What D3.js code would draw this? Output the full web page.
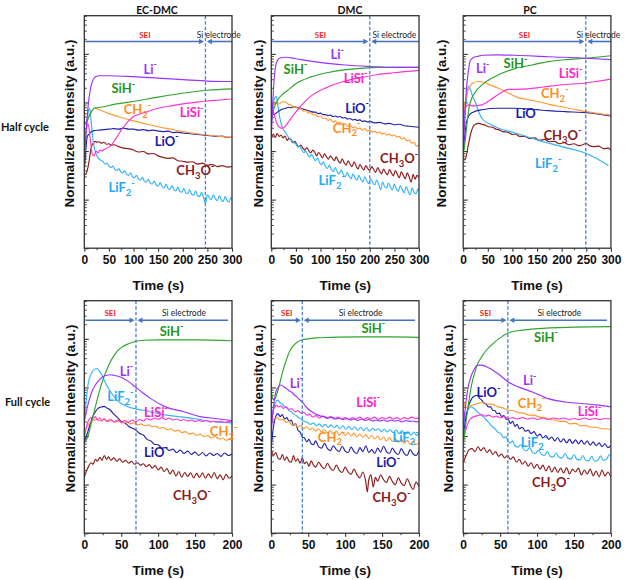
<!DOCTYPE html>
<html><head><meta charset="utf-8">
<script src="https://cdn.jsdelivr.net/npm/d3@7"></script>
<style>body{margin:0;background:#fff}svg{display:block}</style>
</head><body><svg id="c" width="625" height="580"></svg>
<script>
// ---------- DATA (time in s, value = log10 of normalized intensity) ----------
const columns = ["EC-DMC", "DMC", "PC"];
const rows = ["Half cycle", "Full cycle"];
const species = ["CH3O", "LiF2", "LiO", "CH2", "LiSi", "SiH", "Li"];
const xTicksHalf = [0, 50, 100, 150, 200, 250, 300];
const xTicksFull = [0, 50, 100, 150, 200];
const boundaries = [246, 200, 249, 70, 42, 60.5]; // SEI / Si electrode boundary (s)

// Panel A: EC-DMC half cycle
const A_Li = [[0,1.8],[2,2.1],[5,2.6],[8,2.95],[12,3.25],[16,3.42],[20,3.5],[25,3.54],[30,3.55],[50,3.55],[100,3.53],[150,3.5],[200,3.47],[250,3.44],[300,3.43]];
const A_SiH = [[0,2.6],[3,2.55],[6,2.62],[10,2.72],[15,2.82],[20,2.88],[25,2.89],[40,2.91],[60,2.96],[80,2.99],[100,3.02],[150,3.11],[200,3.19],[250,3.25],[300,3.28]];
const A_CH2 = [[0,2.75],[5,2.68],[10,2.72],[15,2.82],[20,2.88],[25,2.87],[30,2.85],[50,2.77],[75,2.69],[100,2.62],[125,2.56],[150,2.5],[175,2.45],[200,2.4],[225,2.36],[250,2.33],[275,2.3],[300,2.28]];
const A_LiO = [[0,1.6],[3,2.0],[6,2.3],[10,2.35],[15,2.4],[20,2.42],[30,2.43],[40,2.44],[50,2.45],[60,2.46],[70,2.45],[80,2.47],[90,2.45],[100,2.45],[110,2.43],[120,2.44],[130,2.42],[140,2.43],[150,2.41],[160,2.4],[170,2.41],[180,2.38],[190,2.39],[200,2.37],[210,2.36],[220,2.35],[230,2.34],[240,2.33],[250,2.32],[260,2.31],[270,2.3],[280,2.31],[290,2.28],[300,2.28]];
const A_LiSi = [[0,2.2],[4,2.45],[8,2.55],[12,2.25],[16,1.95],[20,1.9],[24,2.0],[28,1.96],[32,2.02],[36,2.0],[40,2.03],[45,2.05],[50,2.08],[55,2.12],[60,2.19],[65,2.27],[70,2.35],[75,2.43],[80,2.5],[85,2.56],[90,2.62],[95,2.67],[100,2.71],[110,2.75],[125,2.8],[150,2.88],[175,2.93],[200,2.97],[225,3.0],[250,3.03],[275,3.05],[300,3.07]];
const A_CH3O = [[0,1.55],[3,1.52],[6,1.6],[9,1.75],[12,1.95],[15,2.1],[18,2.16],[22,2.2],[26,2.18],[30,2.19],[35,2.16],[40,2.18],[45,2.14],[50,2.15],[55,2.12],[60,2.13],[70,2.09],[80,2.06],[90,2.05],[100,2.02],[110,1.98],[120,1.99],[130,1.94],[140,1.95],[150,1.9],[160,1.87],[170,1.85],[180,1.86],[190,1.8],[200,1.79],[210,1.77],[220,1.78],[230,1.73],[240,1.75],[250,1.71],[260,1.72],[270,1.68],[280,1.7],[290,1.67],[300,1.68]];
const A_LiF2 = [[0,2.0],[4,2.45],[8,2.8],[11,2.88],[14,2.6],[18,2.2],[22,2.0],[27,1.88],[32,1.82],[38,1.78],[42,1.73],[46,1.75],[50,1.69],[54,1.66],[58,1.69],[62,1.62],[66,1.6],[70,1.64],[74,1.57],[78,1.55],[82,1.59],[86,1.52],[90,1.5],[94,1.55],[98,1.47],[102,1.45],[106,1.5],[110,1.42],[114,1.4],[118,1.46],[122,1.38],[126,1.36],[130,1.42],[134,1.34],[138,1.32],[142,1.38],[146,1.3],[150,1.28],[154,1.35],[158,1.27],[162,1.24],[166,1.32],[170,1.23],[174,1.21],[178,1.29],[182,1.2],[186,1.18],[190,1.26],[194,1.17],[198,1.15],[202,1.23],[206,1.14],[210,1.12],[214,1.2],[218,1.11],[222,1.09],[226,1.18],[230,1.08],[234,1.06],[238,1.15],[242,1.05],[246,0.92],[250,1.1],[254,1.04],[258,1.0],[262,1.1],[266,1.02],[270,0.98],[274,1.08],[278,1.0],[282,0.96],[286,1.06],[290,0.98],[294,0.95],[298,1.04],[300,1.0]];

// Panel B: DMC half cycle
const B_Li = [[0,2.3],[3,3.0],[6,3.5],[10,3.8],[15,3.9],[20,3.92],[30,3.93],[50,3.9],[80,3.85],[110,3.81],[150,3.77],[200,3.74],[250,3.72],[300,3.72]];
const B_SiH = [[0,2.6],[3,2.78],[8,2.95],[15,3.08],[22,3.16],[32,3.24],[52,3.4],[79,3.52],[113,3.61],[147,3.67],[180,3.7],[214,3.72],[248,3.72],[300,3.72]];
const B_LiSi = [[0,2.9],[3,2.85],[6,2.75],[10,2.6],[15,2.5],[20,2.47],[25,2.48],[35,2.6],[45,2.74],[60,2.93],[79,3.12],[113,3.31],[147,3.43],[180,3.51],[214,3.57],[248,3.61],[300,3.66]];
const B_CH2 = [[0,2.8],[5,2.95],[10,2.98],[15,2.97],[20,3.0],[25,3.02],[30,3.0],[35,2.96],[40,2.95],[45,2.9],[50,2.91],[55,2.86],[60,2.87],[65,2.82],[70,2.83],[75,2.78],[80,2.79],[85,2.74],[90,2.75],[95,2.71],[100,2.72],[105,2.67],[110,2.68],[115,2.63],[120,2.65],[125,2.6],[130,2.62],[135,2.57],[140,2.59],[145,2.54],[150,2.56],[155,2.51],[160,2.53],[165,2.48],[170,2.5],[175,2.46],[180,2.47],[185,2.43],[190,2.46],[195,2.41],[200,2.43],[205,2.39],[210,2.41],[215,2.37],[220,2.39],[225,2.35],[230,2.37],[235,2.33],[240,2.35],[245,2.31],[250,2.33],[255,2.29],[260,2.3],[265,2.25],[270,2.27],[275,2.21],[280,2.23],[285,2.16],[290,2.18],[295,2.1],[300,2.13]];
const B_LiO = [[0,2.85],[5,2.75],[10,2.78],[15,2.82],[20,2.85],[25,2.87],[30,2.88],[35,2.9],[40,2.89],[45,2.91],[50,2.9],[55,2.89],[60,2.88],[65,2.86],[70,2.85],[75,2.83],[80,2.82],[85,2.8],[90,2.8],[95,2.77],[100,2.78],[105,2.75],[110,2.75],[115,2.73],[120,2.74],[125,2.71],[130,2.72],[135,2.7],[140,2.71],[145,2.68],[150,2.69],[155,2.66],[160,2.67],[165,2.64],[170,2.65],[175,2.63],[180,2.64],[185,2.61],[190,2.62],[195,2.6],[200,2.61],[210,2.58],[220,2.59],[230,2.56],[240,2.57],[250,2.54],[260,2.55],[270,2.52],[280,2.51],[290,2.5],[300,2.49]];
const B_CH3O = [[0,2.25],[4,2.35],[8,2.28],[12,2.36],[16,2.3],[20,2.33],[24,2.27],[28,2.31],[32,2.22],[36,2.26],[40,2.23],[44,2.17],[48,2.2],[52,2.13],[56,2.09],[60,2.12],[64,2.06],[68,2.02],[72,2.07],[76,2.01],[80,1.96],[84,2.02],[88,1.98],[92,1.9],[96,1.97],[100,1.92],[104,1.86],[108,1.94],[112,1.88],[116,1.83],[120,1.9],[124,1.85],[128,1.8],[132,1.88],[136,1.8],[140,1.75],[144,1.84],[148,1.76],[152,1.71],[156,1.8],[160,1.73],[164,1.68],[168,1.78],[172,1.7],[176,1.63],[180,1.72],[184,1.66],[188,1.61],[192,1.7],[196,1.64],[200,1.6],[204,1.68],[208,1.62],[212,1.56],[216,1.66],[220,1.59],[224,1.53],[228,1.63],[232,1.56],[236,1.51],[240,1.62],[244,1.55],[248,1.49],[252,1.6],[256,1.52],[260,1.45],[264,1.57],[268,1.5],[272,1.43],[276,1.55],[280,1.47],[284,1.36],[288,1.52],[292,1.42],[296,1.5],[300,1.45]];
const B_LiF2 = [[0,2.6],[3,2.9],[7,3.1],[10,3.12],[14,2.9],[18,2.65],[22,2.5],[26,2.42],[30,2.36],[35,2.28],[40,2.24],[45,2.18],[50,2.14],[54,2.08],[58,2.1],[62,2.02],[66,1.97],[70,2.0],[74,1.92],[78,1.88],[82,1.93],[86,1.85],[90,1.8],[94,1.86],[98,1.76],[102,1.72],[106,1.78],[110,1.68],[114,1.64],[118,1.71],[122,1.62],[126,1.58],[130,1.66],[134,1.57],[138,1.53],[142,1.61],[146,1.52],[150,1.47],[154,1.56],[158,1.48],[162,1.43],[166,1.53],[170,1.45],[174,1.4],[178,1.5],[182,1.41],[186,1.36],[190,1.47],[194,1.38],[198,1.33],[202,1.43],[206,1.35],[210,1.3],[214,1.4],[218,1.32],[222,1.2],[226,1.36],[230,1.27],[234,1.24],[238,1.34],[242,1.26],[246,1.2],[250,1.32],[254,1.22],[258,1.17],[262,1.29],[266,1.2],[270,1.14],[274,1.27],[278,1.17],[282,1.1],[286,1.24],[290,1.15],[294,1.12],[298,1.22],[300,1.18]];

// Panel C: PC half cycle
const C_Li = [[0,2.0],[3,2.6],[6,3.2],[10,3.6],[14,3.85],[20,3.92],[30,3.95],[40,3.97],[70,3.98],[105,3.97],[173,3.94],[250,3.91],[300,3.88]];
const C_SiH = [[0,1.9],[4,2.2],[8,2.6],[12,2.9],[18,3.1],[25,3.22],[38,3.36],[55,3.48],[72,3.57],[106,3.7],[139,3.77],[173,3.84],[207,3.88],[250,3.91],[300,3.96]];
const C_CH2 = [[0,2.8],[5,3.05],[10,3.25],[15,3.35],[20,3.4],[30,3.43],[40,3.42],[55,3.36],[72,3.29],[90,3.2],[106,3.12],[130,3.06],[150,3.02],[175,2.96],[200,2.91],[225,2.86],[250,2.81],[275,2.77],[300,2.74]];
const C_LiSi = [[0,2.7],[5,2.9],[10,2.95],[20,2.93],[38,2.95],[55,3.05],[72,3.17],[92,3.27],[110,3.27],[130,3.28],[150,3.3],[173,3.33],[207,3.37],[241,3.39],[270,3.43],[300,3.48]];
const C_LiO = [[0,2.0],[3,2.3],[7,2.6],[10,2.7],[14,2.76],[20,2.8],[38,2.85],[72,2.88],[106,2.88],[139,2.86],[173,2.83],[207,2.81],[250,2.79],[275,2.76],[300,2.72]];
const C_CH3O = [[0,1.8],[5,1.85],[10,2.1],[15,2.35],[20,2.5],[25,2.55],[31,2.57],[38,2.55],[45,2.53],[52,2.5],[60,2.49],[66,2.45],[72,2.44],[80,2.4],[90,2.39],[100,2.34],[106,2.35],[115,2.3],[125,2.3],[135,2.26],[145,2.27],[155,2.22],[165,2.24],[175,2.19],[185,2.2],[195,2.15],[205,2.17],[215,2.13],[225,2.15],[235,2.11],[245,2.14],[250,2.16],[255,2.12],[265,2.09],[275,2.1],[285,2.05],[295,2.06],[300,2.02]];
const C_LiF2 = [[0,2.4],[4,2.8],[8,3.2],[11,3.33],[15,3.25],[20,3.1],[25,3.0],[30,2.85],[38,2.67],[55,2.55],[72,2.47],[106,2.37],[150,2.23],[200,2.09],[250,1.95],[270,1.85],[295,1.7]];

// Panel D: EC-DMC full cycle
const D_SiH = [[0,1.85],[5,2.0],[10,2.3],[15,2.6],[20,2.9],[25,3.15],[30,3.35],[35,3.52],[40,3.65],[45,3.75],[50,3.82],[60,3.9],[70,3.95],[80,3.97],[100,3.98],[150,3.98],[200,3.96]];
const D_Li = [[0,2.3],[5,2.65],[10,2.9],[15,3.05],[20,3.15],[25,3.22],[30,3.25],[35,3.26],[40,3.25],[50,3.21],[60,3.12],[70,3.0],[80,2.88],[90,2.77],[110,2.6],[135,2.5],[157,2.4],[177,2.36],[200,2.32]];
const D_LiF2 = [[0,2.3],[5,3.05],[10,3.3],[17,3.39],[22,3.3],[30,3.05],[37,2.88],[44,2.74],[55,2.63],[66,2.57],[80,2.53],[89,2.5],[111,2.43],[134,2.39],[157,2.34],[177,2.29],[200,2.27]];
const D_LiO = [[0,1.9],[3,2.0],[6,2.15],[9,2.3],[12,2.42],[15,2.5],[18,2.56],[21,2.59],[24,2.6],[27,2.61],[30,2.58],[33,2.56],[36,2.52],[40,2.45],[45,2.38],[50,2.3],[55,2.27],[60,2.2],[65,2.16],[70,2.12],[75,2.05],[80,2.02],[85,1.93],[90,1.9],[95,1.83],[100,1.82],[105,1.75],[110,1.76],[115,1.7],[120,1.73],[125,1.66],[130,1.71],[135,1.64],[140,1.69],[145,1.62],[150,1.67],[155,1.6],[160,1.66],[165,1.59],[170,1.65],[175,1.6],[180,1.64],[185,1.58],[190,1.65],[195,1.6],[200,1.63]];
const D_LiSi = [[0,1.95],[3,2.2],[6,2.33],[9,2.38],[12,2.35],[15,2.4],[18,2.33],[21,2.37],[24,2.31],[27,2.36],[30,2.3],[35,2.34],[40,2.29],[45,2.33],[50,2.28],[55,2.32],[60,2.28],[65,2.33],[70,2.29],[75,2.34],[80,2.31],[85,2.36],[90,2.33],[95,2.37],[100,2.34],[105,2.38],[110,2.34],[115,2.37],[120,2.33],[125,2.35],[130,2.32],[135,2.34],[140,2.31],[145,2.33],[150,2.3],[155,2.32],[160,2.3],[165,2.32],[170,2.29],[175,2.31],[180,2.29],[185,2.31],[190,2.28],[195,2.3],[200,2.3]];
const D_CH2 = [[0,2.1],[4,2.2],[8,2.28],[12,2.32],[17,2.34],[22,2.31],[27,2.34],[32,2.3],[37,2.32],[42,2.29],[47,2.31],[52,2.27],[57,2.29],[62,2.25],[67,2.27],[72,2.23],[77,2.25],[82,2.21],[87,2.23],[92,2.19],[97,2.2],[102,2.16],[107,2.18],[112,2.13],[117,2.15],[122,2.1],[127,2.12],[132,2.07],[137,2.09],[142,2.04],[147,2.06],[152,2.01],[157,2.04],[162,1.99],[167,2.01],[172,1.96],[177,1.99],[182,1.94],[187,1.96],[192,1.91],[197,1.94],[200,1.92]];
const D_CH3O = [[0,1.15],[3,1.28],[6,1.38],[9,1.45],[12,1.42],[15,1.52],[18,1.48],[21,1.56],[24,1.5],[27,1.6],[30,1.52],[33,1.57],[36,1.5],[40,1.55],[44,1.48],[48,1.53],[52,1.46],[56,1.5],[60,1.44],[64,1.48],[68,1.42],[72,1.45],[76,1.4],[80,1.43],[84,1.37],[88,1.41],[92,1.34],[96,1.39],[100,1.3],[104,1.36],[108,1.27],[112,1.33],[116,1.22],[120,1.3],[124,1.18],[128,1.27],[132,1.15],[136,1.25],[140,1.17],[144,1.24],[148,1.14],[152,1.23],[156,1.15],[160,1.24],[164,1.13],[168,1.22],[172,1.14],[176,1.25],[180,1.12],[184,1.2],[188,1.1],[192,1.21],[196,1.13],[200,1.18]];

// Panel E: DMC full cycle
const E_SiH = [[0,2.9],[3,2.75],[6,2.8],[10,3.0],[15,3.3],[20,3.55],[25,3.75],[30,3.86],[35,3.93],[42,3.98],[50,4.0],[60,4.02],[80,4.03],[120,4.04],[160,4.04],[200,4.03]];
const E_Li = [[0,2.1],[3,2.6],[6,2.9],[9,3.0],[13,3.05],[18,3.0],[22,2.96],[25,2.92],[28,2.9],[31,2.85],[35,2.8],[39,2.74],[43,2.68],[47,2.6],[52,2.53],[57,2.48],[62,2.44],[67,2.41],[72,2.4],[77,2.37],[82,2.39],[87,2.35],[92,2.37],[97,2.34],[102,2.36],[107,2.33],[112,2.35],[117,2.32],[122,2.35],[127,2.32],[132,2.34],[137,2.31],[142,2.33],[147,2.31],[152,2.33],[157,2.3],[162,2.33],[167,2.31],[172,2.32],[177,2.29],[182,2.32],[187,2.3],[192,2.31],[197,2.29],[200,2.3]];
const E_LiSi = [[0,2.3],[3,2.55],[7,2.63],[10,2.6],[13,2.62],[16,2.57],[20,2.6],[24,2.55],[28,2.56],[32,2.5],[36,2.52],[40,2.47],[44,2.49],[48,2.43],[52,2.45],[56,2.39],[60,2.42],[65,2.37],[70,2.41],[75,2.36],[80,2.4],[85,2.35],[90,2.39],[95,2.35],[100,2.38],[105,2.34],[110,2.38],[115,2.35],[120,2.39],[125,2.34],[130,2.38],[135,2.35],[140,2.39],[145,2.34],[150,2.38],[155,2.35],[160,2.39],[165,2.35],[170,2.38],[175,2.34],[180,2.38],[185,2.35],[190,2.39],[195,2.36],[200,2.37]];
const E_LiF2 = [[0,2.3],[3,2.55],[6,2.7],[9,2.74],[12,2.68],[15,2.66],[18,2.6],[21,2.58],[24,2.52],[27,2.5],[30,2.45],[33,2.43],[37,2.38],[41,2.34],[45,2.3],[49,2.28],[53,2.24],[57,2.27],[61,2.21],[65,2.25],[69,2.19],[73,2.24],[77,2.18],[81,2.23],[85,2.17],[89,2.22],[93,2.15],[97,2.21],[101,2.14],[105,2.2],[109,2.13],[113,2.19],[117,2.12],[121,2.18],[125,2.11],[129,2.17],[133,2.1],[137,2.16],[141,2.12],[145,2.15],[149,2.09],[153,2.14],[157,2.08],[161,2.13],[165,2.07],[169,2.12],[173,2.05],[177,2.11],[181,2.03],[185,2.09],[189,2.02],[193,2.08],[197,2.01],[200,2.06]];
const E_LiO = [[0,1.8],[3,2.2],[6,2.4],[9,2.46],[12,2.4],[15,2.44],[18,2.35],[21,2.38],[24,2.3],[27,2.33],[30,2.22],[33,2.25],[36,2.12],[39,2.08],[42,1.98],[45,1.96],[48,1.88],[51,1.93],[54,1.84],[57,1.82],[60,1.9],[64,1.78],[68,1.75],[72,1.85],[76,1.74],[80,1.7],[84,1.8],[88,1.72],[92,1.68],[96,1.79],[100,1.69],[104,1.66],[108,1.77],[112,1.68],[116,1.64],[120,1.76],[124,1.68],[128,1.8],[132,1.66],[136,1.72],[140,1.64],[144,1.75],[148,1.67],[152,1.79],[156,1.68],[160,1.64],[164,1.75],[168,1.66],[172,1.62],[176,1.74],[180,1.64],[184,1.6],[188,1.72],[192,1.63],[196,1.6],[200,1.7]];
const E_CH2 = [[0,2.3],[4,2.36],[8,2.38],[12,2.33],[16,2.35],[20,2.28],[24,2.3],[28,2.22],[32,2.25],[36,2.18],[40,2.22],[44,2.15],[48,2.19],[52,2.13],[56,2.17],[60,2.1],[64,2.15],[68,2.08],[72,2.13],[76,2.06],[80,2.11],[84,2.04],[88,2.1],[92,2.02],[96,2.08],[100,2.01],[104,2.07],[108,2.0],[112,2.06],[116,1.98],[120,2.04],[124,1.97],[128,2.03],[132,1.95],[136,2.01],[140,1.94],[144,2.0],[148,1.92],[152,1.98],[156,1.9],[160,1.97],[164,1.89],[168,1.95],[172,1.87],[176,1.93],[180,1.85],[184,1.91],[188,1.83],[192,1.89],[196,1.82],[200,1.86]];
const E_CH3O = [[0,1.72],[3,1.6],[6,1.66],[9,1.55],[12,1.52],[15,1.62],[18,1.5],[21,1.57],[24,1.48],[27,1.46],[30,1.6],[33,1.48],[36,1.53],[39,1.44],[42,1.55],[45,1.43],[48,1.47],[51,1.38],[54,1.49],[57,1.4],[60,1.36],[64,1.46],[68,1.38],[72,1.33],[76,1.44],[80,1.34],[84,1.29],[88,1.4],[92,1.3],[96,1.25],[100,1.36],[104,1.26],[108,1.21],[112,1.32],[116,1.2],[120,1.14],[124,1.26],[128,1.05],[130,0.85],[132,1.1],[135,1.2],[138,0.95],[141,1.15],[144,1.07],[148,1.2],[152,1.1],[156,1.04],[160,1.17],[164,1.06],[168,1.0],[172,1.14],[176,1.03],[180,0.98],[184,1.12],[188,1.0],[192,0.9],[196,1.05],[200,0.96]];

// Panel F: PC full cycle
const F_SiH = [[0,1.8],[3,2.2],[6,2.55],[9,2.85],[12,3.1],[16,3.32],[20,3.5],[25,3.63],[30,3.74],[38,3.87],[50,4.02],[61,4.12],[80,4.18],[100,4.21],[150,4.24],[200,4.25]];
const F_Li = [[0,2.15],[3,2.6],[6,2.95],[10,3.2],[15,3.38],[20,3.46],[25,3.46],[35,3.4],[50,3.25],[61,3.11],[70,3.04],[80,2.98],[93,2.91],[115,2.77],[138,2.7],[160,2.67],[180,2.64],[200,2.6]];
const F_LiO = [[0,2.0],[4,2.4],[8,2.65],[12,2.78],[16,2.83],[19,2.84],[22,2.78],[25,2.74],[28,2.68],[31,2.66],[34,2.6],[37,2.6],[40,2.53],[43,2.52],[46,2.46],[49,2.47],[52,2.4],[55,2.42],[58,2.35],[61,2.34],[64,2.26],[67,2.3],[70,2.2],[73,2.24],[76,2.15],[80,2.18],[84,2.1],[88,2.12],[92,2.05],[96,2.09],[100,2.0],[104,2.04],[108,1.96],[112,2.01],[116,1.93],[120,1.98],[124,1.9],[128,1.97],[132,1.88],[136,1.94],[140,1.86],[144,1.93],[148,1.85],[152,1.92],[156,1.84],[160,1.91],[164,1.83],[168,1.9],[172,1.81],[176,1.88],[180,1.8],[184,1.86],[188,1.78],[192,1.84],[196,1.76],[200,1.8]];
const F_CH2 = [[0,2.75],[3,2.6],[6,2.58],[10,2.62],[15,2.65],[20,2.67],[27,2.69],[33,2.66],[40,2.65],[47,2.6],[54,2.58],[61,2.53],[68,2.52],[75,2.48],[82,2.47],[89,2.43],[96,2.43],[103,2.39],[110,2.38],[117,2.34],[124,2.33],[131,2.3],[138,2.3],[145,2.25],[152,2.26],[159,2.21],[166,2.22],[173,2.18],[180,2.18],[187,2.15],[194,2.15],[200,2.13]];
const F_LiSi = [[0,1.9],[3,2.1],[6,2.25],[10,2.36],[15,2.4],[20,2.42],[25,2.44],[30,2.41],[35,2.43],[40,2.39],[45,2.41],[50,2.37],[55,2.4],[61,2.36],[67,2.38],[73,2.35],[80,2.38],[87,2.35],[94,2.37],[101,2.34],[108,2.37],[115,2.34],[122,2.37],[129,2.35],[136,2.37],[143,2.34],[150,2.36],[157,2.34],[164,2.37],[171,2.34],[178,2.36],[185,2.34],[192,2.36],[200,2.35]];
const F_LiF2 = [[0,2.2],[3,2.4],[7,2.55],[11,2.6],[15,2.56],[19,2.5],[23,2.45],[27,2.4],[31,2.33],[35,2.27],[39,2.2],[43,2.15],[47,2.08],[51,2.05],[55,1.96],[58,1.99],[61,1.88],[64,1.86],[67,1.9],[70,1.8],[74,1.77],[78,1.82],[82,1.72],[86,1.7],[90,1.76],[94,1.66],[98,1.64],[102,1.71],[106,1.62],[110,1.6],[114,1.68],[118,1.58],[122,1.57],[126,1.65],[130,1.56],[134,1.55],[138,1.64],[142,1.54],[146,1.53],[150,1.62],[154,1.52],[158,1.51],[162,1.6],[166,1.5],[170,1.49],[174,1.58],[178,1.48],[182,1.5],[186,1.59],[190,1.5],[194,1.52],[198,1.62],[200,1.58]];
const F_CH3O = [[0,1.45],[4,1.6],[8,1.72],[12,1.74],[16,1.68],[20,1.78],[24,1.7],[28,1.76],[32,1.66],[36,1.72],[40,1.62],[44,1.68],[48,1.58],[52,1.63],[56,1.55],[60,1.6],[64,1.52],[68,1.57],[72,1.46],[76,1.52],[80,1.42],[84,1.48],[88,1.38],[92,1.45],[96,1.34],[100,1.42],[104,1.32],[108,1.4],[112,1.28],[116,1.38],[120,1.26],[124,1.36],[128,1.25],[132,1.34],[136,1.24],[140,1.35],[144,1.22],[148,1.32],[152,1.26],[156,1.34],[160,1.2],[164,1.3],[168,1.22],[172,1.32],[176,1.18],[180,1.28],[184,1.16],[188,1.3],[192,1.18],[196,1.26],[200,1.15]];

const panelData = [
  {Li:A_Li, SiH:A_SiH, CH2:A_CH2, LiO:A_LiO, LiSi:A_LiSi, CH3O:A_CH3O, LiF2:A_LiF2},
  {Li:B_Li, SiH:B_SiH, CH2:B_CH2, LiO:B_LiO, LiSi:B_LiSi, CH3O:B_CH3O, LiF2:B_LiF2},
  {Li:C_Li, SiH:C_SiH, CH2:C_CH2, LiO:C_LiO, LiSi:C_LiSi, CH3O:C_CH3O, LiF2:C_LiF2},
  {Li:D_Li, SiH:D_SiH, CH2:D_CH2, LiO:D_LiO, LiSi:D_LiSi, CH3O:D_CH3O, LiF2:D_LiF2},
  {Li:E_Li, SiH:E_SiH, CH2:E_CH2, LiO:E_LiO, LiSi:E_LiSi, CH3O:E_CH3O, LiF2:E_LiF2},
  {Li:F_Li, SiH:F_SiH, CH2:F_CH2, LiO:F_LiO, LiSi:F_LiSi, CH3O:F_CH3O, LiF2:F_LiF2}
];

// ---------- LAYOUT / STYLE ----------
const lineColor = {Li:"#9B33FF", SiH:"#2EA52E", CH2:"#FF9A33", LiSi:"#FF33D6", LiO:"#2222AA", CH3O:"#8E1B1B", LiF2:"#33B4FF"};
const textColor = {Li:"#9933FF", SiH:"#1E961E", CH2:"#FF8C1A", LiSi:"#FF22CC", LiO:"#1A1AA8", CH3O:"#8B1A1A", LiF2:"#22AAF5"};
// label anchor positions in data coordinates [time, log10 value] for each panel
const labelPos = [
  {Li:[120,3.59], SiH:[55,3.19], CH2:[80,2.76], LiSi:[194,2.7], LiO:[143,2.11], CH3O:[187,1.5], LiF2:[49,1.15]},
  {Li:[120,3.89], SiH:[25,3.59], CH2:[125,2.38], LiSi:[147,3.41], LiO:[150,2.79], CH3O:[221,1.75], LiF2:[96,1.3]},
  {Li:[26,3.6], SiH:[82,3.7], CH2:[158,3.09], LiSi:[194,3.5], LiO:[106,2.67], CH3O:[163,2.23], LiF2:[146,1.65]},
  {Li:[48,3.24], SiH:[102,4.06], CH2:[170,2.0], LiSi:[81,2.39], LiO:[81,1.57], CH3O:[120,0.68], LiF2:[31,2.72]},
  {Li:[25,2.99], SiH:[122,4.13], CH2:[63,1.88], LiSi:[115,2.6], LiO:[142,1.36], CH3O:[137,0.64], LiF2:[164,1.88]},
  {Li:[81,3.05], SiH:[96,3.94], CH2:[74,2.58], LiSi:[155,2.41], LiO:[18,2.8], CH3O:[93,0.95], LiF2:[78,1.78]}
];
const lefts = [84.3, 271.3, 463.2];
const tops = [15.7, 300.7];
const W = 147.7, H = 232.5;
const yLabelGap = [8, 6, 15, 7, 6, 8];
const LOGMAX = 4.785;

const svg = d3.select("#c");
const tickFont = "'Liberation Sans', Arial, sans-serif";
const lblFont = "Lato, 'Open Sans', sans-serif";

// Row labels & column titles
rows.forEach((r, i) => {
  svg.append("text").attr("x", i === 0 ? 1 : 5).attr("y", i === 0 ? 130.5 : 406)
    .attr("font-family", lblFont).attr("font-weight", "bold").attr("font-size", 11).attr("fill", "#111").text(r);
});
columns.forEach((c, i) => {
  svg.append("text").attr("x", [157, 350, 530][i]).attr("y", 13.5).attr("text-anchor", "middle")
    .attr("font-family", lblFont).attr("font-weight", "bold").attr("font-size", 10.5).attr("fill", "#111").text(c);
});

function speciesLabel(g, name, x, y) {
  const t = g.append("text").attr("x", x).attr("y", y).attr("font-family", lblFont)
    .attr("font-weight", "bold").attr("font-size", 13).attr("fill", textColor[name]);
  const parts = {
    Li: [["Li", 0]], SiH: [["SiH", 0]], LiSi: [["LiSi", 0]], LiO: [["LiO", 0]],
    CH2: [["CH", 0], ["2", 1]], CH3O: [["CH", 0], ["3", 1], ["O", 0]], LiF2: [["LiF", 0], ["2", 1]]
  }[name];
  let cur = 0;
  parts.forEach(([s, sub]) => {
    const target = sub ? 3.5 : 0;
    const ts = t.append("tspan").attr("dy", target - cur).text(s);
    if (sub) ts.attr("font-size", 9.5);
    cur = target;
  });
  t.append("tspan").attr("dy", -6.5 - cur).attr("font-size", 9).text("-");
}

for (let p = 0; p < 6; p++) {
  const row = Math.floor(p / 3), col = p % 3;
  const L = lefts[col], T = tops[row];
  const full = row === 1;
  const xMax = full ? 200 : 300;
  const x = d3.scaleLinear().domain([0, xMax]).range([L, L + W]);
  const y = d3.scaleLog().domain([1, Math.pow(10, LOGMAX)]).range([T + H, T]);
  const g = svg.append("g");

  const cid = "clip" + p;
  svg.append("clipPath").attr("id", cid).append("rect").attr("x", L).attr("y", T).attr("width", W).attr("height", H);

  // x axis (ticks outward)
  const xt = full ? xTicksFull : xTicksHalf;
  const xMinor = d3.range(25, xMax, 50);
  g.append("g").attr("transform", `translate(0,${T + H})`)
    .call(d3.axisBottom(x).tickValues(xt).tickSize(3.5).tickPadding(4).tickFormat(d3.format("d")))
    .call(a => a.select(".domain").remove())
    .call(a => a.selectAll("line").attr("stroke", "#333").attr("stroke-width", 1.1))
    .call(a => a.selectAll("text").attr("font-family", tickFont).attr("font-weight", "bold").attr("font-size", 12).attr("fill", "#111"));
  g.append("g").attr("transform", `translate(0,${T + H})`)
    .call(d3.axisBottom(x).tickValues(xMinor).tickSize(2).tickFormat(""))
    .call(a => a.select(".domain").remove())
    .call(a => a.selectAll("line").attr("stroke", "#333").attr("stroke-width", 1));

  // y axis (log, ticks inward, no labels)
  const yMaj = [1, 10, 100, 1000, 10000];
  const yMin = [];
  for (let d = 0; d < 5; d++) for (let k = 2; k <= 9; k++) { const v = k * Math.pow(10, d); if (Math.log10(v) < LOGMAX) yMin.push(v); }
  g.append("g").attr("transform", `translate(${L},0)`)
    .call(d3.axisRight(y).tickValues(yMaj).tickSize(4.5).tickFormat(""))
    .call(a => a.select(".domain").remove())
    .call(a => a.selectAll("line").attr("stroke", "#333").attr("stroke-width", 1.1));
  g.append("g").attr("transform", `translate(${L},0)`)
    .call(d3.axisRight(y).tickValues(yMin).tickSize(2.5).tickFormat(""))
    .call(a => a.select(".domain").remove())
    .call(a => a.selectAll("line").attr("stroke", "#333").attr("stroke-width", 0.9));

  // lines
  const line = d3.line().x(d => x(d[0])).y(d => y(Math.pow(10, d[1]))).curve(d3.curveMonotoneX);
  const lg = g.append("g").attr("clip-path", `url(#${cid})`);
  species.forEach(s => {
    lg.append("path").datum(panelData[p][s]).attr("d", line).attr("fill", "none")
      .attr("stroke", lineColor[s]).attr("stroke-width", 1.15).attr("stroke-linejoin", "round");
  });

  // boundary dashed line
  const bx = x(boundaries[p]);
  g.append("line").attr("x1", bx).attr("x2", bx).attr("y1", T).attr("y2", T + H)
    .attr("stroke", "#4A7FD4").attr("stroke-width", 1.3).attr("stroke-dasharray", "3.5,2");

  // arrows
  const ay = full ? T + 19.5 : T + 25.8;
  const ac = "#4472C4";
  const leftTail = L + 1, rightTail = full ? L + W - 4 : L + W;
  g.append("line").attr("x1", leftTail).attr("x2", bx - 3).attr("y1", ay).attr("y2", ay).attr("stroke", ac).attr("stroke-width", 1.6);
  g.append("path").attr("d", `M${bx - 1.5},${ay} L${bx - 6.5},${ay - 2.8} L${bx - 6.5},${ay + 2.8} Z`).attr("fill", ac);
  g.append("line").attr("x1", bx + 3).attr("x2", rightTail).attr("y1", ay).attr("y2", ay).attr("stroke", ac).attr("stroke-width", 1.6);
  g.append("path").attr("d", `M${bx + 1.5},${ay} L${bx + 6.5},${ay - 2.8} L${bx + 6.5},${ay + 2.8} Z`).attr("fill", ac);
  g.append("text").attr("x", (L + bx) / 2).attr("y", ay - 4).attr("text-anchor", "middle")
    .attr("font-family", lblFont).attr("font-weight", "bold").attr("font-size", 8).attr("fill", "#FF1A1A").text("SEI");
  g.append("text").attr("x", (bx + L + W) / 2).attr("y", ay - 4).attr("text-anchor", "middle")
    .attr("font-family", lblFont).attr("font-size", 8.5).attr("fill", "#222").text("Si electrode");

  // frame
  g.append("rect").attr("x", L).attr("y", T).attr("width", W).attr("height", H)
    .attr("fill", "none").attr("stroke", "#333").attr("stroke-width", 1.3);

  // species labels
  species.forEach(s => {
    const [lt, lv] = labelPos[p][s];
    speciesLabel(g, s, x(lt), y(Math.pow(10, lv)));
  });

  // axis titles
  g.append("text").attr("x", L + W / 2).attr("y", T + H + (full ? 41.5 : 42))
    .attr("text-anchor", "middle").attr("font-family", tickFont).attr("font-weight", "bold")
    .attr("font-size", 13.5).attr("fill", "#111").text("Time (s)");
  const yc = T + H / 2 - 8.5;
  const yx = L - yLabelGap[p] - 2;
  g.append("text").attr("transform", `translate(${yx},${yc}) rotate(-90)`).attr("text-anchor", "middle")
    .attr("font-family", tickFont).attr("font-weight", "bold").attr("font-size", 13)
    .attr("textLength", 168).attr("lengthAdjust", "spacingAndGlyphs").attr("fill", "#111")
    .text("Normalized Intensity (a.u.)");
}
</script></body></html>
